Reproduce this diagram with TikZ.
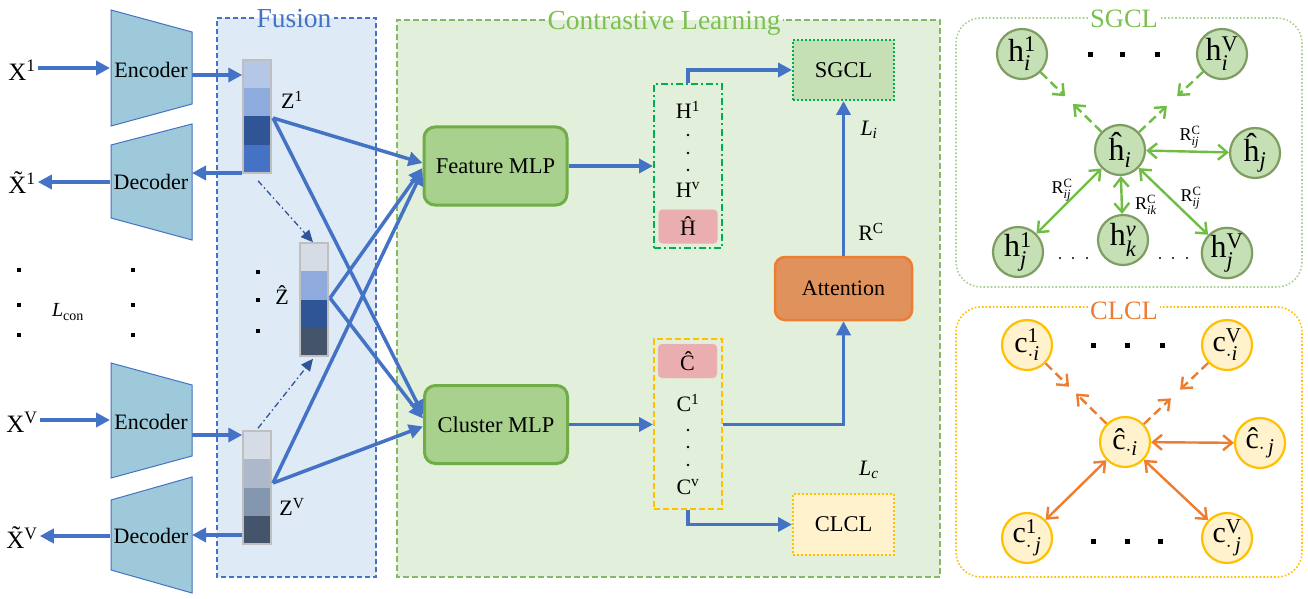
\documentclass[tikz,border=0pt]{standalone}
\usepackage{fontspec}
\usepackage{amsmath}
\setmainfont{Liberation Serif}
\usetikzlibrary{arrows.meta,calc}
\definecolor{cblue}{HTML}{4472C4}
\definecolor{cdblue}{HTML}{2F5597}
\definecolor{ctrap}{HTML}{9DC9DB}
\definecolor{cfus}{HTML}{DEEAF6}
\definecolor{ccl}{HTML}{E2EFDA}
\definecolor{cgreen}{HTML}{70AD47}
\definecolor{cmlp}{HTML}{A9D18E}
\definecolor{clgreen}{HTML}{C5E0B4}
\definecolor{cbgreen}{HTML}{00B050}
\definecolor{cyel}{HTML}{FFF2CC}
\definecolor{cgold}{HTML}{FFC000}
\definecolor{corange}{HTML}{ED7D31}
\definecolor{catt}{HTML}{E0925C}
\definecolor{cpink}{HTML}{EAADB0}
\definecolor{cpinkd}{HTML}{F0C4C6}
\definecolor{cgrey}{HTML}{BFBFBF}
\definecolor{cnodeg}{HTML}{7E9D62}
\definecolor{cgarrow}{HTML}{6FBD45}
\definecolor{ctitleg}{HTML}{7CC150}
\definecolor{cpanelg}{HTML}{A9D18E}
\definecolor{ca1}{HTML}{B4C7E7}
\definecolor{ca2}{HTML}{8FAADC}
\definecolor{ca3}{HTML}{D6DCE5}
\definecolor{ca4}{HTML}{ADB9CA}
\definecolor{ca5}{HTML}{8497B0}
\definecolor{ca6}{HTML}{44546A}
\newcommand{\fsz}[1]{\fontsize{#1}{#1}\selectfont}
\begin{document}
\begin{tikzpicture}[x=1pt,y=-1pt,
  txt/.style={inner sep=0pt, font=\fsz{22}},
  arr/.style={draw=cblue, line width=3.5pt, -{Triangle[length=14pt,width=14pt]}},
  dda/.style={draw=cdblue, line width=1.3pt, dash pattern=on 6pt off 3pt on 1.5pt off 3pt, -{Triangle[length=12pt,width=11pt]}},
  trap/.style={fill=ctrap, draw=cblue, line width=1pt},
  barnode/.style={draw=cgrey, line width=1.5pt, minimum width=28, minimum height=113, inner sep=0pt},
  mlp/.style={draw=cgreen, fill=cmlp, line width=3pt, rounded corners=11pt, minimum width=143, minimum height=78, font=\fsz{22.5}},
  gnode/.style={circle, draw=cnodeg, fill=clgreen, line width=2.2pt, minimum size=50, inner sep=0pt, font=\fsz{32}},
  ynode/.style={circle, draw=cgold, fill=cyel, line width=2.2pt, minimum size=50, inner sep=0pt, font=\fsz{30}},
  garr/.style={draw=cgarrow, line width=2.4pt, {Straight Barb[length=9pt,width=15pt]}-{Straight Barb[length=9pt,width=15pt]}},
  gdash/.style={draw=cgarrow, line width=2.4pt, dash pattern=on 9pt off 5pt, -{Straight Barb[length=9pt,width=15pt]}},
  oarr/.style={draw=corange, line width=2.4pt, {Straight Barb[length=9pt,width=15pt]}-{Straight Barb[length=9pt,width=15pt]}},
  odash/.style={draw=corange, line width=2.4pt, dash pattern=on 9pt off 5pt, -{Straight Barb[length=9pt,width=15pt]}},
  pinkb/.style={fill=cpink, draw=cpinkd, dotted, line width=0.8pt, rounded corners=4pt, minimum width=59, minimum height=34, inner sep=0pt, font=\fsz{22}},
  lbl/.style={inner sep=0pt, font=\fsz{18}}
]
\useasboundingbox (0,0) rectangle (1308,599);
\fill[white] (0,0) rectangle (1308,599);

% ---------------- Fusion panel
\fill[cfus] (217,18) rectangle (376,577);
\node[inner sep=2pt, font=\fsz{27.5}, text=cblue, anchor=base] (tfus) at (294,28) {Fusion};
\coordinate (ftop) at (0,18);
\draw[cblue, line width=1.5pt, dash pattern=on 5pt off 3pt] (tfus.west |- ftop) -- (217,18) -- (217,577) -- (376,577) -- (376,18) -- (tfus.east |- ftop);

% ---------------- Contrastive panel
\fill[ccl] (397,20) rectangle (940,577);
\node[inner sep=2pt, font=\fsz{27.5}, text=ctitleg, anchor=base] (tcl) at (664,30) {Contrastive Learning};
\coordinate (ctop) at (0,20);
\draw[cgreen!85!white, line width=1.8pt, dash pattern=on 6pt off 3pt] (tcl.west |- ctop) -- (397,20) -- (397,577) -- (940,577) -- (940,20) -- (tcl.east |- ctop);

% ---------------- Encoders / decoders
\draw[trap] (111,10) -- (192,32) -- (192,104) -- (111,126) -- cycle;
\draw[trap] (111,145) -- (192,124) -- (192,240) -- (111,218) -- cycle;
\draw[trap] (111,363) -- (192,385) -- (192,456) -- (111,478) -- cycle;
\draw[trap] (111,500) -- (192,477) -- (192,593) -- (111,570) -- cycle;
\node[txt] (enc1) at (151,70) {Encoder};
\node[txt] (dec1) at (151,182) {Decoder};
\node[txt] (encv) at (151,422) {Encoder};
\node[txt] (decv) at (151,536) {Decoder};
\coordinate (enc1W) at (110,68);
\coordinate (enc1E) at (192,75);
\coordinate (dec1W) at (110,182);
\coordinate (dec1E) at (192,173);
\coordinate (encvW) at (110,420);
\coordinate (encvE) at (192,435);
\coordinate (decvW) at (110,536);
\coordinate (decvE) at (192,535);

% inputs / outputs
\node[inner sep=0pt, font=\fsz{25}] (x1) at (22,70) {X$^{\text{1}}$};
\node[inner sep=0pt, font=\fsz{25}] (xt1) at (22,183) {\~{X}$^{\text{1}}$};
\node[inner sep=0pt, font=\fsz{25}] (xv) at (22,422) {X$^{\text{V}}$};
\node[inner sep=0pt, font=\fsz{25}] (xtv) at (22,538) {\~{X}$^{\text{V}}$};
\draw[arr] (x1.east |- enc1W) ++(2,0) -- (enc1W);
\draw[arr] (dec1W) -- ($(xt1.east |- dec1W)+(2,0)$);
\draw[arr] (xv.east |- encvW) ++(2,0) -- (encvW);
\draw[arr] (decvW) -- ($(xtv.east |- decvW)+(2,0)$);

% ---------------- bars
\fill[ca1] (243,60) rectangle (271,88.25);
\fill[ca2] (243,88.25) rectangle (271,116.5);
\fill[cdblue] (243,116.5) rectangle (271,144.75);
\fill[cblue] (243,144.75) rectangle (271,173);
\node[barnode] (z1) at (257,116.5) {};

\fill[ca3] (300,243) rectangle (328,271.25);
\fill[ca2] (300,271.25) rectangle (328,299.5);
\fill[cdblue] (300,299.5) rectangle (328,327.75);
\fill[ca6] (300,327.75) rectangle (328,356);
\node[barnode] (zh) at (314,299.5) {};

\fill[ca3] (243,431) rectangle (271,459.25);
\fill[ca4] (243,459.25) rectangle (271,487.5);
\fill[ca5] (243,487.5) rectangle (271,515.75);
\fill[ca6] (243,515.75) rectangle (271,544);
\node[barnode] (zv) at (257,487.5) {};

\node[txt] (lz1) at (292,100) {Z$^{\text{1}}$};
\node[txt] (lzh) at (282,295) {\^{Z}};
\node[txt] (lzv) at (292,507) {Z$^{\text{V}}$};

\draw[arr] (enc1E) -- (enc1E -| z1.west);
\draw[arr] (z1.west |- dec1E) -- (dec1E);
\draw[arr] (encvE) -- (encvE -| zv.west);
\draw[arr] (zv.west |- decvE) -- (decvE);

\draw[dda] ($(z1.south)+(1,7)$) -- ($(zh.north)+(-1,0)$);
\draw[dda] ($(zv.north)+(1,-2)$) -- ($(zh.south)+(-1,2)$);

% dots
\foreach \px/\py in {19/270,19/305,19/335,133/270,133/305,133/335,258/272,258/300,258/331}
  \fill (\px-2,\py-2) rectangle (\px+2,\py+2);
\node[inner sep=0pt, font=\fsz{20}] (lcon) at (68,312) {\textit{L}$_{\text{con}}$};

% ---------------- MLPs
\node[mlp] (fm) at (495.5,166) {Feature MLP};
\node[mlp] (cm) at (496,424.5) {Cluster MLP};

\coordinate (z1o) at (273,118);
\coordinate (zho) at (330,298);
\coordinate (zvo) at (273,483);
\draw[arr] (z1o) -- ($(fm.west)+(0,-3)$);
\draw[arr] (z1o) -- ($(cm.west)+(0,-10)$);
\draw[arr] (zho) -- ($(fm.west)+(0,2)$);
\draw[arr] (zho) -- ($(cm.west)+(0,-6)$);
\draw[arr] (zvo) -- ($(fm.west)+(0,5)$);
\draw[arr] (zvo) -- ($(cm.west)+(0,2)$);

% ---------------- H and C columns
\node[draw=cbgreen, line width=2pt, dash pattern=on 7pt off 3pt on 2pt off 3pt, minimum width=68, minimum height=163, inner sep=0pt] (hb) at (688,166) {};
\node[txt] (h1) at (688,110) {H$^{\text{1}}$};
\node[txt] (hv) at (688,190) {H$^{\text{v}}$};
\node[pinkb] (hh) at (688,226.5) {\^{H}};
\foreach \py in {135,153,170} \fill (688,\py) circle (1.4);

\node[draw=cgold, line width=2pt, dash pattern=on 6pt off 3pt, minimum width=68, minimum height=170, inner sep=0pt] (cb) at (688,424) {};
\node[pinkb] (ch) at (687.5,361) {\^{C}};
\node[txt] (c1) at (688,403) {C$^{\text{1}}$};
\node[txt] (cv) at (688,487) {C$^{\text{v}}$};
\foreach \py in {430,447,465} \fill (688,\py) circle (1.4);

% ---------------- SGCL / CLCL / Attention
\node[draw=cbgreen, fill=clgreen, line width=2pt, dash pattern=on 2pt off 2pt, minimum width=101, minimum height=60, inner sep=0pt, font=\fsz{22.5}] (sg) at (843.5,70) {SGCL};
\node[draw=cgold, fill=cyel, line width=2pt, dash pattern=on 2pt off 2pt, minimum width=101, minimum height=61, inner sep=0pt, font=\fsz{22.5}] (cl) at (843.5,524.5) {CLCL};
\node[draw=corange, fill=catt, line width=2.5pt, rounded corners=10pt, minimum width=137, minimum height=63, inner sep=0pt, font=\fsz{22}] (att) at (843.5,288.5) {Attention};

\draw[arr] (fm.east) -- (fm.east -| hb.west);
\draw[arr] (hb.north) |- (sg.west);
\draw[arr] (att.north) -- (sg.south);
\draw[arr] (cm.east) -- (cm.east -| cb.west);
\draw[arr] (cb.east |- cm.east) -| (att.south);
\draw[arr] (cb.south) |- (cl.west);

\node[txt] (li) at (869,130) {\textit{L}$_{\textit{i}}$};
\node[txt] (rc) at (871,232) {R$^{\text{C}}$};
\node[txt] (lc) at (869,470) {\textit{L}$_{\textit{c}}$};

% ---------------- SGCL panel
\node[inner sep=2pt, font=\fsz{26.5}, text=ctitleg, anchor=base] (tsg) at (1124,28) {SGCL};
\coordinate (stop) at (0,18);
\draw[cpanelg, line width=1.6pt, dash pattern=on 1.6pt off 2pt, rounded corners=25pt] (tsg.west |- stop) -- (956,18) -- (956,287) -- (1302,287) -- (1302,18) -- (tsg.east |- stop);

\node[gnode] (h1i) at (1022,54) {h$^{\text{1}}_{\textit{i}}$};
\node[gnode] (hVi) at (1222,54) {h$^{\text{V}}_{\textit{i}}$};
\node[gnode] (hi) at (1120,150) {\^{h}$_{\textit{i}}$};
\node[gnode] (hj) at (1255,153) {\^{h}$_{\textit{j}}$};
\node[gnode] (h1j) at (1018,252) {h$^{\text{1}}_{\textit{j}}$};
\node[gnode] (hkv) at (1123,240) {h$^{\textit{v}}_{\textit{k}}$};
\node[gnode] (hVj) at (1227,253) {h$^{\text{V}}_{\textit{j}}$};
\foreach \px in {1090,1122,1157} \fill (\px-2.5,52.5) rectangle (\px+2.5,57.5);
\foreach \px in {1060,1073,1087,1160,1173,1187} \fill (\px,258) circle (1.2);

\draw[gdash] (h1i) -- ($(h1i)!0.44!(hi)$);
\draw[gdash] (hi) -- ($(h1i)!0.52!(hi)$);
\draw[gdash] (hVi) -- ($(hVi)!0.44!(hi)$);
\draw[gdash] (hi) -- ($(hVi)!0.54!(hi)$);
\draw[garr] (hi) -- (hj);
\draw[garr] (hi) -- (h1j);
\draw[garr] (hi) -- (hkv);
\draw[garr] (hi) -- (hVj);
\node[lbl] (r1) at (1190,137) {R$^{\text{C}}_{\textit{ij}}$};
\node[lbl] (r2) at (1062,190) {R$^{\text{C}}_{\textit{ij}}$};
\node[lbl] (r3) at (1146,205) {R$^{\text{C}}_{\textit{ik}}$};
\node[lbl] (r4) at (1191,198) {R$^{\text{C}}_{\textit{ij}}$};

% ---------------- CLCL panel
\node[inner sep=2pt, font=\fsz{26.5}, text=corange, anchor=base] (tcc) at (1124,319) {CLCL};
\coordinate (cctop) at (0,307);
\draw[cgold, line width=1.6pt, dash pattern=on 1.6pt off 2pt, rounded corners=25pt] (tcc.west |- cctop) -- (956,307) -- (956,577) -- (1302,577) -- (1302,307) -- (tcc.east |- cctop);

\node[ynode] (c1i) at (1027,345) {c$^{\text{1}}_{\cdot\textit{i}}$};
\node[ynode] (cVi) at (1227,345) {c$^{\text{V}}_{\cdot\textit{i}}$};
\node[ynode] (ci) at (1125,442) {\^{c}$_{\cdot\textit{i}}$};
\node[ynode] (cj) at (1260,443) {\^{c}$_{\cdot\,\textit{j}}$};
\node[ynode] (c1j) at (1027,538) {c$^{\text{1}}_{\cdot\,\textit{j}}$};
\node[ynode] (cVj) at (1227,538) {c$^{\text{V}}_{\cdot\,\textit{j}}$};
\foreach \px in {1093,1127,1162} \fill (\px-2.5,342.5) rectangle (\px+2.5,347.5);
\foreach \px in {1093,1127,1160} \fill (\px-2.5,538.5) rectangle (\px+2.5,543.5);

\draw[odash] (c1i) -- ($(c1i)!0.43!(ci)$);
\draw[odash] (ci) -- ($(c1i)!0.50!(ci)$);
\draw[odash] (cVi) -- ($(cVi)!0.46!(ci)$);
\draw[odash] (ci) -- ($(cVi)!0.55!(ci)$);
\draw[oarr] (ci) -- (cj);
\draw[oarr] (ci) -- (c1j);
\draw[oarr] (ci) -- (cVj);
\end{tikzpicture}
\end{document}
